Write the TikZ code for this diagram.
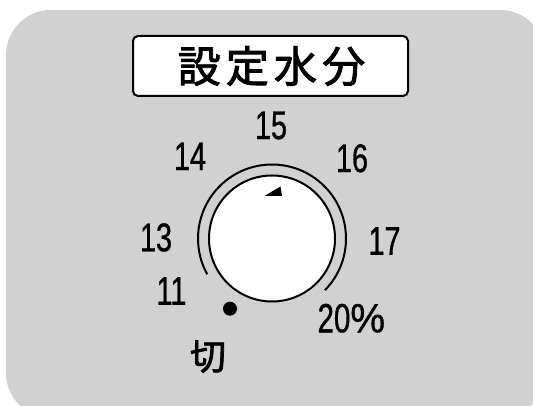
\documentclass[tikz,border=0pt]{standalone}
\usepackage{fontspec}
\newfontfamily\cjktitle[LetterSpace=12,FakeBold=2]{Noto Sans CJK JP}
\newfontfamily\cjk[FakeBold=2]{Noto Sans CJK JP}
\newfontfamily\numfont[FakeStretch=0.72,FakeBold=0.8]{Liberation Sans}
\newfontfamily\pctfont[FakeStretch=0.95,FakeBold=0.8]{Liberation Sans}
\begin{document}
\begin{tikzpicture}[
  line width=2pt,
  panel/.style={fill=black!18},
  titlebox/.style={draw, fill=white, rounded corners=5pt, minimum width=275pt, minimum height=60pt, inner sep=0pt, font=\cjktitle\fontsize{43}{43}\selectfont},
  num/.style={inner sep=0pt, font=\numfont\fontsize{40}{40}\selectfont},
  bignum/.style={inner sep=0pt, font=\numfont\fontsize{41}{41}\selectfont},
  kanji/.style={inner sep=0pt, font=\cjk\fontsize{36}{36}\selectfont},
  knob/.style={draw, fill=white, circle, minimum size=126pt, inner sep=0pt},
  offdot/.style={fill=black, circle, minimum size=14pt, inner sep=0pt}
]
\useasboundingbox (0,0) rectangle (533pt,406pt);
\clip (0,0) rectangle (533pt,406pt);
\fill[panel, rounded corners=45pt] (6pt,396pt) rectangle (545pt,-12pt);
% title
\node[titlebox] (title) at (270.5pt,340pt) {\hspace*{2pt}設定水分};
% dial
\coordinate (c) at (272pt,167.5pt);
\draw (c) ++(-44.3:74pt) coordinate (arcstart) arc[start angle=-44.3, end angle=208.9, radius=74pt] coordinate (arcend);
\node[knob] (knobc) at (c) {};
\fill (264.5pt,210pt) coordinate (t1) -- (282pt,210pt) coordinate (t2) -- (280.5pt,219.5pt) coordinate (t3) -- cycle;
\node[offdot] (dot) at (230pt,97.3pt) {};
% labels
\node[num] (l15) at (271pt,280.5pt) {15};
\node[num] (l14) at (190pt,249.7pt) {14};
\node[num] (l16) at (352pt,247.7pt) {16};
\node[num] (l13) at (156pt,168.5pt) {13};
\node[num] (l17) at (384.5pt,165pt) {17};
\node[num] (l11) at (171.5pt,115pt) {11};
\node[bignum] (l20) at (351.3pt,87.7pt) {20{\pctfont\%}};
\node[kanji] (off) at (208pt,49.3pt) {切};
\end{tikzpicture}
\end{document}
